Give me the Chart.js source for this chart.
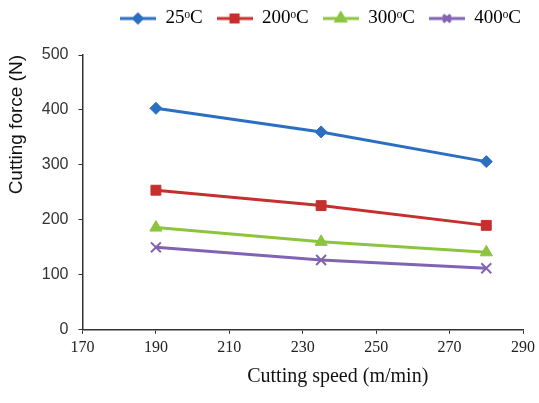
<!DOCTYPE html>
<html>
<head>
<meta charset="utf-8">
<script src="https://cdn.jsdelivr.net/npm/chart.js@4.4.0/dist/chart.umd.min.js"></script>
<style>
  html, body { margin: 0; padding: 0; background: #fff; }
  #wrap { width: 539px; height: 403px; }
</style>
</head>
<body>
<div id="wrap"><canvas id="forceChart" width="539" height="403"></canvas></div>
<script>
  // cutting speed (m/min)
  const speeds = [190, 235, 280];
  // cutting force (N) per temperature
  const force25 = [403, 360, 306];
  const force200 = [254, 226, 190];
  const force300 = [186, 160, 141];
  const force400 = [150, 127, 112];
  const seriesLabels = ['25ᵒC', '200ᵒC', '300ᵒC', '400ᵒC'];

  const blue = '#2b6fc2', red = '#c5302e', green = '#8cc43e', purple = '#8063b3';

  // small line + marker picture for the legend
  function legendIcon(color, style, r) {
    const c = document.createElement('canvas');
    c.width = 36; c.height = 16;
    const g = c.getContext('2d');
    g.strokeStyle = color; g.fillStyle = color; g.lineWidth = 3;
    g.beginPath(); g.moveTo(0, 8); g.lineTo(36, 8); g.stroke();
    Chart.helpers.drawPoint(g, { pointStyle: style, radius: r, borderWidth: 2 }, 18, 8);
    g.fill(); g.stroke();
    return c;
  }

  function toPoints(arr) {
    return arr.map((v, i) => ({ x: speeds[i], y: v }));
  }

  // extra room under the legend
  const legendGap = {
    id: 'legendGap',
    beforeInit(chart) {
      const fit = chart.legend.fit;
      chart.legend.fit = function() {
        fit.bind(chart.legend)();
        this.height += 17;
      };
    }
  };

  const ctx = document.getElementById('forceChart').getContext('2d');
  const forceChart = new Chart(ctx, {
    type: 'line',
    data: {
      datasets: [
        { label: seriesLabels[0], data: toPoints(force25), borderColor: blue, backgroundColor: blue,
          pointStyle: 'rectRot', pointRadius: 6, legendStyle: ['rectRot', 4] },
        { label: seriesLabels[1], data: toPoints(force200), borderColor: red, backgroundColor: red,
          pointStyle: 'rect', pointRadius: 7, legendStyle: ['rect', 5] },
        { label: seriesLabels[2], data: toPoints(force300), borderColor: green, backgroundColor: green,
          pointStyle: 'triangle', pointRadius: 7, legendStyle: ['triangle', 5] },
        { label: seriesLabels[3], data: toPoints(force400), borderColor: purple, backgroundColor: purple,
          pointStyle: 'crossRot', pointRadius: 7, pointBorderWidth: 2, legendStyle: ['crossRot', 5] }
      ]
    },
    plugins: [legendGap],
    options: {
      responsive: false,
      animation: false,
      layout: { padding: { left: 1, right: 4, top: -5, bottom: 10 } },
      elements: {
        line: { borderWidth: 3, tension: 0 },
        point: { borderWidth: 1 }
      },
      scales: {
        x: {
          type: 'linear',
          min: 170, max: 290,
          ticks: { stepSize: 20, color: '#222', font: { family: 'Liberation Serif', size: 16 }, padding: 4 },
          grid: { drawOnChartArea: false, color: '#333', tickLength: 4 },
          border: { color: '#333', width: 1.5 },
          title: { display: true, text: '\u2002\u2002\u2002\u2002\u2002\u2002\u2002Cutting speed (m/min)',
                   color: '#111', font: { family: 'Liberation Serif', size: 20 }, padding: { top: 4 } }
        },
        y: {
          min: 0, max: 500,
          ticks: { stepSize: 100, color: '#333', font: { family: 'Liberation Sans', size: 16 }, padding: 10 },
          grid: { drawOnChartArea: false, color: '#333', tickLength: 4 },
          border: { color: '#333', width: 1.5 },
          title: { display: true, text: 'Cutting force (N)', align: 'end',
                   color: '#111', font: { family: 'Liberation Sans', size: 19 }, padding: { bottom: 4 } }
        }
      },
      plugins: {
        tooltip: { enabled: false },
        legend: {
          display: true,
          position: 'top',
          align: 'end',
          labels: {
            usePointStyle: true,
            pointStyleWidth: 36,
            padding: 14,
            color: '#222',
            font: { family: 'Liberation Serif', size: 19 },
            generateLabels(chart) {
              return chart.data.datasets.map((ds, i) => ({
                text: ds.label,
                pointStyle: legendIcon(ds.borderColor, ds.legendStyle[0], ds.legendStyle[1]),
                fillStyle: ds.borderColor,
                strokeStyle: ds.borderColor,
                lineWidth: 0,
                hidden: false,
                datasetIndex: i
              }));
            }
          }
        }
      }
    }
  });
</script>
</body>
</html>
